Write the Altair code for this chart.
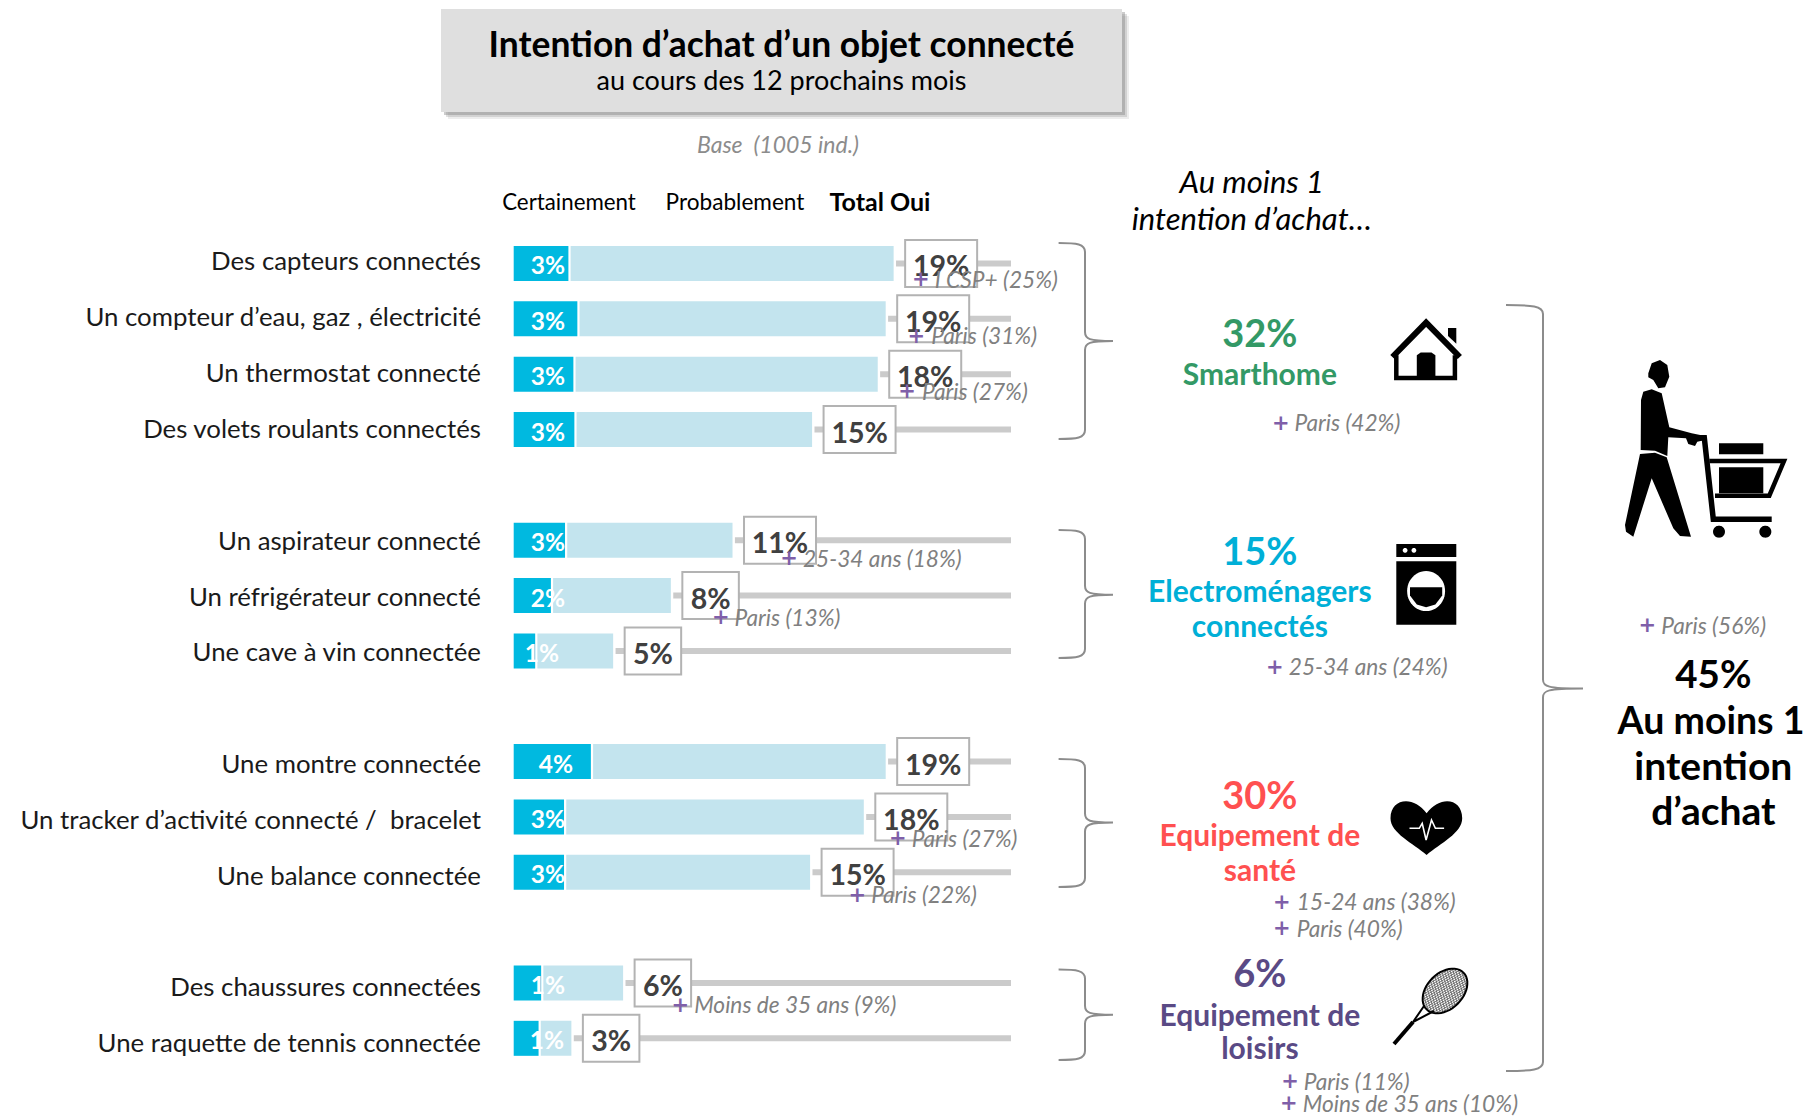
import math
import altair as alt
import pandas as pd

# ---- data ----
LABELS = ["Des capteurs connectés", "Un compteur d’eau, gaz , électricité", "Un thermostat connecté",
          "Des volets roulants connectés", "Un aspirateur connecté", "Un réfrigérateur connecté",
          "Une cave à vin connectée", "Une montre connectée", "Un tracker d’activité connecté /\u00a0 bracelet",
          "Une balance connectée", "Des chaussures connectées", "Une raquette de tennis connectée"]
CERTAIN = [2.75, 3.2, 3.0, 3.05, 2.58, 1.87, 1.08, 3.88, 2.53, 2.53, 1.38, 1.25]
TOTAL = [19.1, 18.7, 18.3, 15.0, 11.0, 7.9, 5.0, 18.7, 17.6, 14.9, 5.5, 2.9]
CERTAIN_TXT = ["3%", "3%", "3%", "3%", "3%", "2%", "1%", "4%", "3%", "3%", "1%", "1%"]
TOTAL_TXT = ["19%", "19%", "18%", "15%", "11%", "8%", "5%", "19%", "18%", "15%", "6%", "3%"]
SLOTS = LABELS[:4] + [" "] + LABELS[4:7] + ["  "] + LABELS[7:10] + ["   "] + LABELS[10:]
MAX_PCT = 25

# small per-row nudges of the in-bar label (px)
LABEL_NUDGE = [0, 0, 0, 0, 0, 0, -6, 8, 0, 0, 0, -1]

df = pd.DataFrame({"label": LABELS, "certain": CERTAIN, "total": TOTAL,
                   "ctxt": CERTAIN_TXT, "ttxt": TOTAL_TXT, "maxp": [MAX_PCT] * 12,
                   "dx": LABEL_NUDGE})

# ---- layout ----
S = 1814 / 1568
X0, X1 = 513.7 - 8, 1011 - 8
PX = (X1 - X0) / MAX_PCT
xs = alt.Scale(domain=[0, MAX_PCT], range=[X0, X1], nice=False, zero=False)
ys = alt.Scale(type="band", domain=SLOTS, range=[235.8 - 8, 1066 - 8], paddingInner=0, paddingOuter=0)
FONT = "Lato"
X = lambda f: alt.X(f, type="quantitative", scale=xs, axis=None)
Y = alt.Y("label:N", scale=ys, axis=None)

CALC = dict(
    light0=f"datum.certain + {2.2 / PX}",
    track0=f"datum.total + {2.4 / PX}",
    box0=f"datum.total + {11.5 / PX}",
    box1=f"datum.total + ({11.5} + (length(datum.ttxt) == 3 ? 72 : 56.5)) / {PX}",
    boxc=f"datum.total + ({11.5} + (length(datum.ttxt) == 3 ? 72 : 56.5) / 2) / {PX}",
    lab=f"1.72 + datum.dx / {PX}",
)
base = alt.Chart(df).transform_calculate(**CALC)

layers = []


def rect(x0, y0, x1, y1, color, opacity=1.0):
    return alt.Chart(pd.DataFrame({"a": [0]})).mark_rect(color=color, opacity=opacity).encode(
        x=alt.value(x0 - 8), x2=alt.value(x1 - 8), y=alt.value(y0 - 8), y2=alt.value(y1 - 8))


def txt(s, x, y, size, color="#000000", bold=False, italic=False, align="center", font=FONT):
    return alt.Chart(pd.DataFrame({"t": [s]})).mark_text(
        font=font, fontSize=size, color=color, align=align, baseline="middle",
        fontWeight="bold" if bold else "normal", fontStyle="italic" if italic else "normal",
    ).encode(x=alt.value(x - 8), y=alt.value(y - 8 + 2), text="t:N")


def sym(path, fill=None, stroke=None, width=2):
    kw = dict(shape=path, size=4, opacity=1)
    if fill:
        m = alt.Chart(pd.DataFrame({"a": [0]})).mark_point(filled=True, color=fill, strokeWidth=0, **kw)
    else:
        m = alt.Chart(pd.DataFrame({"a": [0]})).mark_point(filled=False, color=stroke, strokeWidth=width, **kw)
    return m.encode(x=alt.value(-8), y=alt.value(-8))


def poly(pts, close=True):
    s = "M" + " L".join(f"{a:.1f},{b:.1f}" for a, b in pts)
    return s + ("Z" if close else "")


def ellipse(cx, cy, a, b, ang=0.0, n=48):
    c, d = math.cos(ang), math.sin(ang)
    pts = []
    for i in range(n):
        t = 2 * math.pi * i / n
        u, v = a * math.cos(t), b * math.sin(t)
        pts.append((cx + u * c - v * d, cy + u * d + v * c))
    return poly(pts)


def brace(x0, xv, xt, y0, ym, y1):
    return (f"M{x0},{y0} C{x0 + (xv - x0) * .7},{y0} {xv},{y0 + 1} {xv},{y0 + 9} L{xv},{ym - 9} "
            f"C{xv},{ym - 2} {xv + 4},{ym} {xt},{ym} C{xv + 4},{ym} {xv},{ym + 2} {xv},{ym + 9} "
            f"L{xv},{y1 - 9} C{xv},{y1 - 1} {x0 + (xv - x0) * .7},{y1} {x0},{y1}")


# title box
for i, op in [(7, .14), (5, .24), (3, .40)]:
    layers.append(rect(441 + i, 9 + i, 1122 + i, 112 + i, "#7f7f7f", op))
layers.append(rect(441, 9, 1122, 112, "#DFDFDF"))
layers.append(txt("Intention d’achat d’un objet connecté", 781.5, 44, 35.4, bold=True))
layers.append(txt("au cours des 12 prochains mois", 781.5, 80, 27))
layers.append(txt("Base\u00a0 (1005 ind.)", 778, 144, 23, "#8C8C8C", italic=True))
layers.append(txt("Certainement", 569, 200.5, 22.3))
layers.append(txt("Probablement", 735, 200.5, 22.6))
layers.append(txt("Total Oui", 880, 200.5, 25, bold=True))

# bars
layers.append(base.mark_bar(size=6, color="#CBCBCB").encode(x=X("track0"), x2="maxp:Q", y=Y))
layers.append(base.mark_bar(size=35, color="#C3E4EE").encode(x=X("light0"), x2="total:Q", y=Y))
layers.append(base.transform_calculate(z="0").mark_bar(size=35, color="#00B9E0").encode(x=X("z"), x2="certain:Q", y=Y))
layers.append(base.mark_bar(size=47, fill="#FFFFFF", stroke="#B3B3B3", strokeWidth=2).encode(x=X("box0"), x2="box1:Q", y=Y))
layers.append(base.mark_text(font=FONT, fontSize=28.5, fontWeight="bold", color="#404040", baseline="middle", dy=4).encode(
    x=X("boxc"), y=Y, text="ttxt:N"))
layers.append(base.mark_text(font=FONT, fontSize=24.5, fontWeight="bold", color="#FFFFFF", baseline="middle", dy=4).encode(
    x=X("lab"), y=Y, text="ctxt:N"))
for i, name in enumerate(LABELS):
    slot = SLOTS.index(name)
    layers.append(alt.Chart(df.iloc[[i]]).mark_text(
        font=FONT, fontSize=25.8, color="#1a1a1a", align="right", baseline="middle", dy=-1 + 0.5 * slot
    ).encode(x=alt.value(481 - 8), y=Y, text="label:N"))

# significant differences
PLUS = "#7F5FA9"
GREY = "#808080"
NOTES = [(796, 808, 241, "I CSP+ (25%)"), (792, 805, 290, "Paris (31%)"), (784, 797, 338, "Paris (27%)"),
         (682, 694, 482, "25-34 ans (18%)"), (623, 635, 533, "Paris (13%)"), (776, 788, 724, "Paris (27%)"),
         (741, 753, 773, "Paris (22%)"), (588, 600, 868, "Moins de 35 ans (9%)"),
         (1107, 1119, 365, "Paris (42%)"), (1102, 1114, 576, "25-34 ans (24%)"),
         (1108, 1121, 779, "15-24 ans (38%)"), (1108, 1121, 802, "Paris (40%)"),
         (1115, 1127, 934, "Paris (11%)"), (1114, 1126, 953, "Moins de 35 ans (10%)"),
         (1424, 1436, 540, "Paris (56%)")]
for px_, tx_, y_, s in NOTES:
    layers.append(txt(s, tx_ * S, y_ * S, 22.7, GREY, italic=True, align="left"))
    layers.append(txt("+", px_ * S, (y_ - 0.5) * S, 21, PLUS, bold=True, font="DejaVu Sans"))

# right column
layers.append(txt("Au moins 1", 1082 * S, 157 * S, 31, italic=True))
layers.append(txt("intention d’achat…", 1082 * S, 189 * S, 31, italic=True))
GROUPS = [("32%", "#339966", 289, ["Smarthome"], [323]),
          ("15%", "#00AFD7", 477, ["Electroménagers", "connectés"], [511, 541]),
          ("30%", "#FF5050", 688, ["Equipement de", "santé"], [722, 752]),
          ("6%", "#5A4A85", 842, ["Equipement de", "loisirs"], [877, 906])]
for big, col, y_, names, ynames in GROUPS:
    layers.append(txt(big, 1089 * S, y_ * S, 38, col, bold=True))
    for n, yn in zip(names, ynames):
        layers.append(txt(n, 1089 * S, yn * S, 30, col, bold=True))
for s, y_, fs, xc in [("45%", 583, 38.5, 1481), ("Au moins 1", 623, 37.5, 1479), ("intention", 662, 39, 1481), ("d’achat", 701, 39, 1481)]:
    layers.append(txt(s, xc * S, y_ * S, fs, bold=True))

# braces
for y0, ym, y1 in [(243, 341, 439), (530, 594.7, 658), (759, 822.6, 887), (969.6, 1014.7, 1060)]:
    layers.append(sym(brace(1058.6, 1085, 1113, y0, ym, y1), stroke="#8C8C8C", width=2))
layers.append(sym(brace(1506, 1543, 1583, 305, 688.5, 1071), stroke="#8C8C8C", width=2))

# icons
z2 = lambda x, y: (1050 + x / 2.05, 150 + y / 2.85)
z3 = lambda x, y: (1050 + x / 2.05, 700 + y / 3)
zm = lambda x, y: (1610 + x / 3, 350 + y / 3)
zp = lambda pts, z=z2: [z(a, b) for a, b in pts]
# house
layers.append(sym(poly(zp([(702, 590), (771, 492), (840, 590)]), False), stroke="#000000", width=6))
layers.append(sym(poly(zp([(710, 585), (710, 650), (830, 650), (830, 585)]), False), stroke="#000000", width=4.5))
layers.append(sym(poly(zp([(752, 585), (760, 577), (782, 577), (790, 585), (790, 650), (752, 650)])), fill="#000000"))
layers.append(sym(poly(zp([(816, 507), (833, 507), (833, 552), (816, 530)])), fill="#000000"))
# washer
layers.append(sym(poly(zp([(710, 1123), (833, 1123), (833, 1160), (710, 1160)])), fill="#000000"))
layers.append(sym(poly(zp([(710, 1172), (833, 1172), (833, 1353), (710, 1353)])), fill="#000000"))
for dx in (728, 746):
    c = z2(dx, 1141)
    layers.append(sym(ellipse(c[0], c[1], 2.4, 2.4), fill="#FFFFFF"))
c = z2(771, 1257)
layers.append(sym(ellipse(c[0], c[1], 19, 20), fill="#FFFFFF"))
layers.append(sym(poly(zp([(738, 1246), (804, 1246), (804, 1270), (790, 1295), (771, 1303), (752, 1295), (738, 1270)])), fill="#000000"))
# shopper
layers.append(sym(poly(zp([(115, 70), (125, 40), (150, 30), (172, 45), (178, 80), (165, 112), (145, 115), (130, 90), (115, 82)], zm)), fill="#000000"))
layers.append(sym(poly(zp([(93, 150), (100, 125), (125, 118), (155, 130), (178, 232), (245, 250), (285, 258), (285, 270),
                           (262, 275), (255, 288), (235, 282), (228, 265), (175, 262), (172, 318), (135, 302), (92, 300)], zm)), fill="#000000"))
layers.append(sym(poly(zp([(90, 312), (135, 308), (170, 322), (243, 560), (210, 558), (190, 535), (125, 385), (70, 560),
                           (48, 545), (45, 525)], zm)), fill="#000000"))
layers.append(sym(poly(zp([(265, 263), (283, 263), (310, 508), (485, 508)], zm), False), stroke="#000000", width=5.5))
layers.append(sym(poly(zp([(298, 333), (522, 333), (478, 437), (315, 437)], zm), False), stroke="#000000", width=4.5))
layers.append(sym(poly(zp([(327, 280), (460, 280), (460, 313), (327, 313)], zm)), fill="#000000"))
layers.append(sym(poly(zp([(327, 352), (460, 352), (460, 430), (327, 430)], zm)), fill="#000000"))
for wx in (327, 466):
    c = zm(wx, 545)
    layers.append(sym(ellipse(c[0], c[1], 6, 6), fill="#000000"))
# heart
h = lambda x, y: "%.1f,%.1f" % z3(x, y)
layers.append(sym(f"M{h(772, 340)} C{h(745, 285)} {h(698, 295)} {h(698, 355)} C{h(698, 400)} {h(745, 430)} {h(772, 465)} "
                  f"C{h(800, 430)} {h(845, 400)} {h(845, 355)} C{h(845, 295)} {h(800, 285)} {h(772, 340)}Z", fill="#000000"))
layers.append(sym(poly(zp([(737, 385), (757, 385), (763, 370), (771, 420), (782, 360), (790, 385), (808, 385)], z3), False),
                  stroke="#FFFFFF", width=1.6))
# racket
rc = (1445.0, 991.0)
ang = -math.radians(45)
A, B = 26.0, 18.0
ca, sa = math.cos(ang), math.sin(ang)
mp = lambda u, v: (rc[0] + A * u * ca - B * v * sa, rc[1] + A * u * sa + B * v * ca)
hatch = ""
for nx, ny in [(math.cos(math.radians(20)), math.sin(math.radians(20))), (math.cos(math.radians(70)), -math.sin(math.radians(70)))]:
    for k in range(-8, 9):
        q = k / 9
        r = math.sqrt(1 - q * q)
        p1 = mp(q * nx - r * ny, q * ny + r * nx)
        p2 = mp(q * nx + r * ny, q * ny - r * nx)
        hatch += f"M{p1[0]:.1f},{p1[1]:.1f} L{p2[0]:.1f},{p2[1]:.1f} "
layers.append(sym(hatch, stroke="#555555", width=0.8))
layers.append(sym(ellipse(rc[0], rc[1], A, B, ang), stroke="#000000", width=2))
layers.append(sym(poly([(1424, 1006), (1413, 1022), (1434, 1011)], False), stroke="#000000", width=2))
layers.append(sym(poly([(1413, 1022), (1394, 1044)], False), stroke="#000000", width=4))

chart = alt.layer(*layers).properties(
    width=1798, height=1108, padding=0, autosize=alt.AutoSizeParams(type="none"), background="#FFFFFF"
).configure_view(stroke=None)

chart.save("out.html", embed_options={"renderer": "svg", "actions": False})
